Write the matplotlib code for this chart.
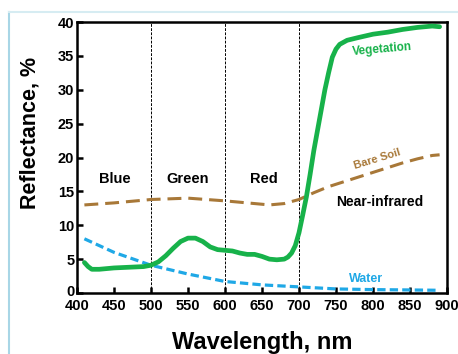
import numpy as np
import matplotlib
matplotlib.use("Agg")
import matplotlib.pyplot as plt
from matplotlib.lines import Line2D
import matplotlib.transforms as mtransforms

plt.rcParams['font.family'] = ['Liberation Sans', 'DejaVu Sans']
plt.rcParams['lines.scale_dashes'] = False

# 植被反射率
veg_wl = [410, 415, 420, 430, 450, 470, 490, 500, 510, 520, 530, 540, 550, 560, 570,
          580, 590, 600, 610, 620, 630, 640, 650, 660, 670, 680, 685, 690, 695, 700,
          705, 710, 715, 720, 725, 730, 735, 740, 745, 750, 755, 765, 780, 800, 820,
          840, 860, 880, 890]
veg_r = [4.5, 3.9, 3.5, 3.5, 3.7, 3.8, 3.9, 4.1, 4.6, 5.5, 6.6, 7.6, 8.1, 8.1, 7.6,
         6.8, 6.4, 6.3, 6.2, 5.9, 5.7, 5.7, 5.4, 5.0, 4.9, 5.0, 5.3, 5.9, 7.0, 8.9,
         11.5, 14.2, 17.5, 21.0, 24.0, 27.0, 30.0, 32.5, 34.8, 36.0, 36.7, 37.3, 37.7,
         38.2, 38.5, 38.9, 39.2, 39.4, 39.3]

# 裸土
soil_wl = [410, 450, 500, 550, 600, 630, 660, 680, 700, 720, 740, 760, 780, 800,
           820, 840, 860, 880, 890]
soil_r = [13.0, 13.3, 13.8, 14.0, 13.6, 13.3, 13.0, 13.2, 13.8, 14.8, 15.7, 16.4,
          17.1, 17.8, 18.5, 19.2, 19.8, 20.3, 20.4]

# 水
water_wl = [410, 450, 500, 550, 600, 650, 700, 750, 800, 850, 890]
water_r = [8.0, 6.0, 4.1, 2.8, 1.7, 1.2, 0.9, 0.6, 0.5, 0.45, 0.4]

bands = [500, 600, 700]
band_names = ["Blue", "Green", "Red"]
band_x = [451, 549, 652]

green = "#17b24a"
brown = "#a87838"
cyan = "#1fa8e6"

fig = plt.figure(figsize=(4.58, 3.54), dpi=100)
ax = fig.add_axes([77/458, 61/354, 370/458, 271/354])

for b in bands:
    ax.plot([b, b], [0, 40], color="black", lw=0.7, dashes=(2, 1), zorder=1)

ax.plot(soil_wl, soil_r, color=brown, lw=2.2, dashes=(10, 5), zorder=2)
ax.plot(water_wl, water_r, color=cyan, lw=2.3, dashes=(6, 3), zorder=2)
ax.plot(veg_wl, veg_r, color=green, lw=3.4, solid_capstyle="round", zorder=3)

for name, x in zip(band_names, band_x):
    ax.text(x, 16.8, name, ha="center", va="center", fontsize=10.5, fontweight="bold")
ax.text(809, 13.4, "Near-infrared", ha="center", va="center", fontsize=10, fontweight="bold")
ax.text(813, 35.9, "Vegetation", ha="center", va="center", fontsize=8.5,
        fontweight="bold", color=green, rotation=5)
ax.text(805, 19.7, "Bare Soil", ha="center", va="center", fontsize=8,
        fontweight="bold", color=brown, rotation=17)
ax.text(790, 2.1, "Water", ha="center", va="center", fontsize=9,
        fontweight="bold", color=cyan)

ax.set_xlim(400, 900)
ax.set_ylim(0, 40)
ax.set_xticks(np.arange(400, 901, 50))
ax.set_yticks(np.arange(0, 41, 5))
ax.tick_params(direction="in", length=4, width=1.8, labelsize=10.5)
ax.tick_params(axis="x", pad=4)
ax.tick_params(axis="y", pad=2)
for lab in ax.get_xticklabels() + ax.get_yticklabels():
    lab.set_fontweight("bold")
# 0 的標籤略微上移
ylab0 = ax.get_yticklabels()[0]
ylab0.set_transform(ylab0.get_transform() + mtransforms.ScaledTranslation(0, 3/100, fig.dpi_scale_trans))
for s in ax.spines.values():
    s.set_linewidth(1.8)

fig.text(30/458, 1 - 133/354, "Reflectance, %", rotation=90, ha="center", va="center",
         fontsize=15.5, fontweight="bold")
fig.text(262/458, 1 - 342/354, "Wavelength, nm", ha="center", va="center",
         fontsize=17, fontweight="bold")

# 淺藍色邊框
fig.add_artist(Line2D([9/458, 9/458], [0, 1 - 12/354], color="#a8d6e6", lw=1.5))
fig.add_artist(Line2D([9/458, 1], [1 - 12/354, 1 - 12/354], color="#d6ecf2", lw=1.5))

fig.savefig("out.png", dpi=100)
